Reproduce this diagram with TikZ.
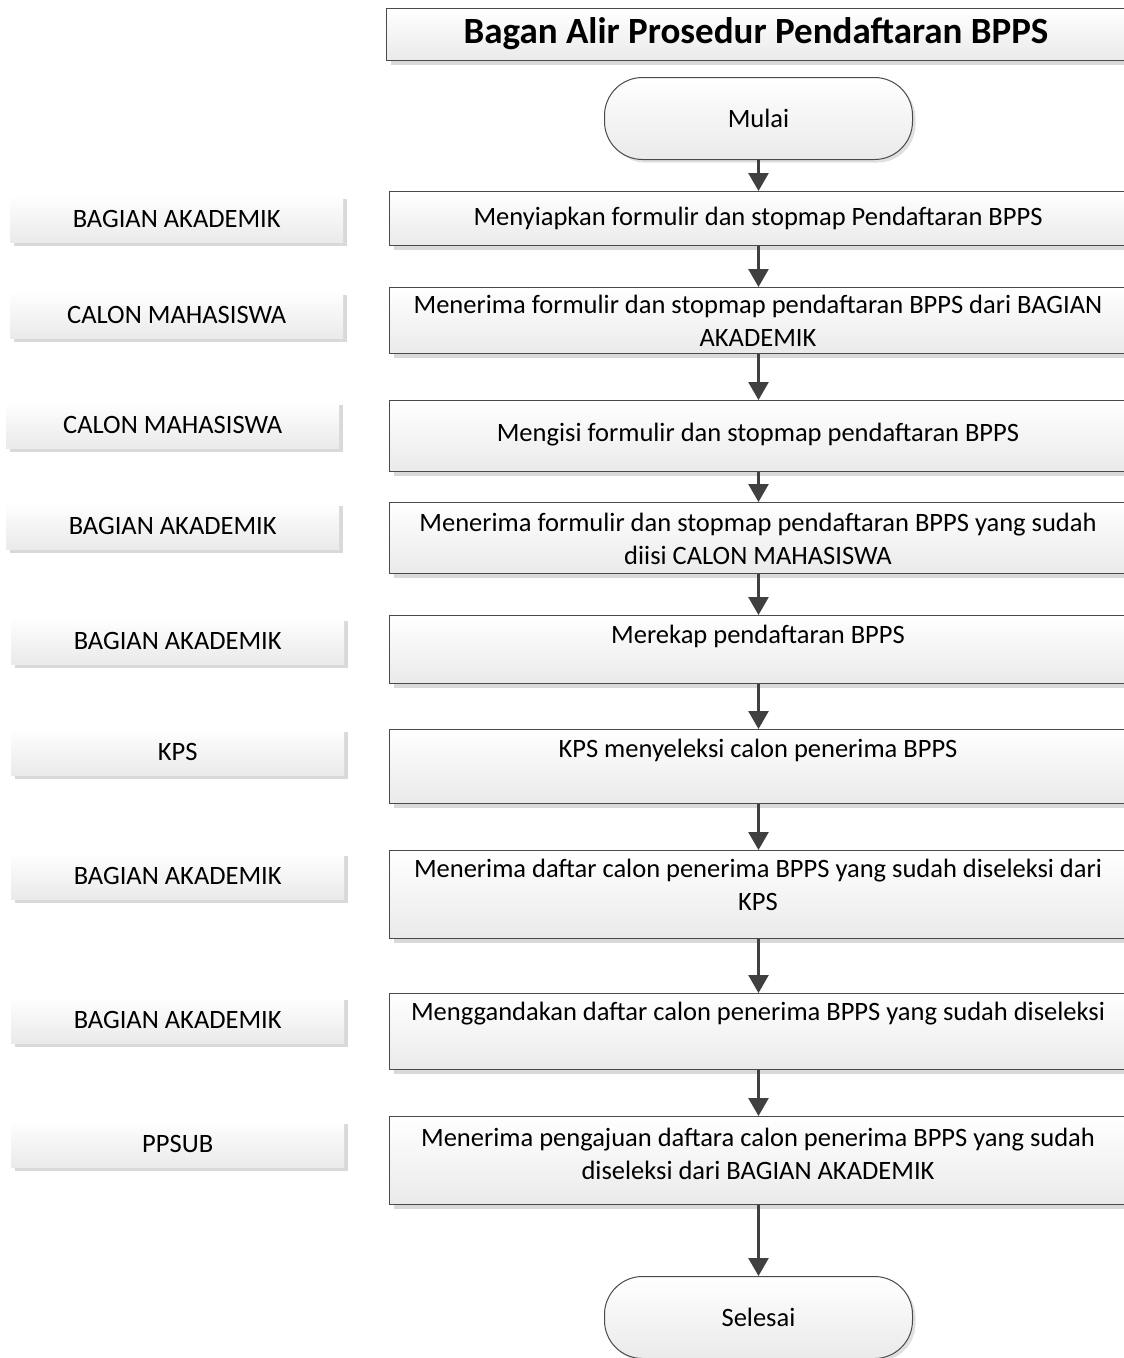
\documentclass[tikz,border=0pt]{standalone}
\usepackage{fontspec}
\setmainfont{Carlito}
\usetikzlibrary{arrows.meta,shadows}

\definecolor{boxline}{HTML}{4A4A4A}
\definecolor{flowline}{HTML}{404040}
\definecolor{shadowgray}{HTML}{D9D9D9}
\definecolor{fillbottom}{HTML}{EAEAEA}

\newcommand{\bodysize}{\fontsize{26.5}{32.5}\selectfont}
\newcommand{\titlesize}{\fontsize{37}{44}\selectfont\bfseries}

\tikzset{
  softshadow/.style={drop shadow={shadow xshift=4pt, shadow yshift=-4pt,
      fill=shadowgray, opacity=1}},
  lanebox/.style={rectangle, draw=none, top color=white, bottom color=fillbottom,
      softshadow, anchor=north west, minimum width=333pt, minimum height=47pt,
      inner sep=0pt, font=\bodysize},
  stepbox/.style={rectangle, draw=boxline, line width=1.2pt, top color=white,
      bottom color=fillbottom, softshadow, anchor=north west,
      minimum width=760pt, inner sep=0pt},
  steptext/.style={align=center, font=\bodysize, inner sep=0pt},
  titlebox/.style={rectangle, draw=boxline, line width=1.2pt, top color=white,
      bottom color=fillbottom, softshadow, anchor=north west,
      minimum width=760pt, minimum height=52pt, inner sep=0pt},
  titletext/.style={font=\titlesize, inner sep=0pt},
  termbox/.style={rectangle, rounded corners=38pt, draw=boxline, line width=1pt,
      top color=white, bottom color=fillbottom,
      drop shadow={shadow xshift=3pt, shadow yshift=-3pt, fill=shadowgray, opacity=0.8},
      anchor=north west, minimum width=308pt, minimum height=82pt,
      inner sep=0pt, font=\bodysize},
  flow/.style={draw=flowline, line width=2.6pt,
      -{Triangle[width=20pt,length=18pt]}},
}

\begin{document}
\begin{tikzpicture}[x=1pt, y=-1pt]
  \useasboundingbox (0,0) rectangle (1124,1358);
  \clip (0,0) rectangle (1124,1358);
  \fill[white] (0,0) rectangle (1124,1358);

  % title and terminators
  \node[titlebox] (title) at (386,8) {};
  \node[titletext] (titlelabel) at (756,34) {Bagan Alir Prosedur Pendaftaran BPPS};
  \node[termbox] (start) at (604,77) {Mulai};
  \node[termbox] (stop) at (604,1276) {Selesai};

  % process steps
  \node[stepbox, minimum height=54pt] (b1) at (389,191) {};
  \node[stepbox, minimum height=66pt] (b2) at (389,287) {};
  \node[stepbox, minimum height=71pt] (b3) at (389,400) {};
  \node[stepbox, minimum height=71pt] (b4) at (389,502) {};
  \node[stepbox, minimum height=68pt] (b5) at (389,615) {};
  \node[stepbox, minimum height=74pt] (b6) at (389,729) {};
  \node[stepbox, minimum height=88pt] (b7) at (389,850) {};
  \node[stepbox, minimum height=76pt] (b8) at (389,993) {};
  \node[stepbox, minimum height=88pt] (b9) at (389,1116) {};

  % step texts
  \node[steptext] (t1) at (758,218) {Menyiapkan formulir dan stopmap Pendaftaran BPPS};
  \node[steptext] (t2) at (758,321) {Menerima formulir dan stopmap pendaftaran BPPS dari BAGIAN\\AKADEMIK};
  \node[steptext] (t3) at (758,435) {Mengisi formulir dan stopmap pendaftaran BPPS};
  \node[steptext] (t4) at (758,539) {Menerima formulir dan stopmap pendaftaran BPPS yang sudah\\diisi CALON MAHASISWA};
  \node[steptext] (t5) at (758,636) {Merekap pendaftaran BPPS};
  \node[steptext] (t6) at (758,750) {KPS menyeleksi calon penerima BPPS};
  \node[steptext] (t7) at (758,885) {Menerima daftar calon penerima BPPS yang sudah diseleksi dari\\KPS};
  \node[steptext] (t8) at (758,1014) {Menggandakan daftar calon penerima BPPS yang sudah diseleksi};
  \node[steptext] (t9) at (758,1154) {Menerima pengajuan daftara calon penerima BPPS yang sudah\\diseleksi dari BAGIAN AKADEMIK};

  % responsible parties
  \node[lanebox] (l1) at (10,195) {BAGIAN AKADEMIK};
  \node[lanebox] (l2) at (10,291) {CALON MAHASISWA};
  \node[lanebox] (l3) at (6,401) {CALON MAHASISWA};
  \node[lanebox] (l4) at (6,502) {BAGIAN AKADEMIK};
  \node[lanebox] (l5) at (11,617) {BAGIAN AKADEMIK};
  \node[lanebox] (l6) at (11,728) {KPS};
  \node[lanebox] (l7) at (11,852) {BAGIAN AKADEMIK};
  \node[lanebox] (l8) at (11,996) {BAGIAN AKADEMIK};
  \node[lanebox] (l9) at (11,1120) {PPSUB};

  % flow
  \draw[flow] (start.south) -- (start.south |- b1.north);
  \draw[flow] (b1.south -| start.south) -- (start.south |- b2.north);
  \draw[flow] (b2.south -| start.south) -- (start.south |- b3.north);
  \draw[flow] (b3.south -| start.south) -- (start.south |- b4.north);
  \draw[flow] (b4.south -| start.south) -- (start.south |- b5.north);
  \draw[flow] (b5.south -| start.south) -- (start.south |- b6.north);
  \draw[flow] (b6.south -| start.south) -- (start.south |- b7.north);
  \draw[flow] (b7.south -| start.south) -- (start.south |- b8.north);
  \draw[flow] (b8.south -| start.south) -- (start.south |- b9.north);
  \draw[flow] (b9.south -| start.south) -- (stop.north);
\end{tikzpicture}
\end{document}
